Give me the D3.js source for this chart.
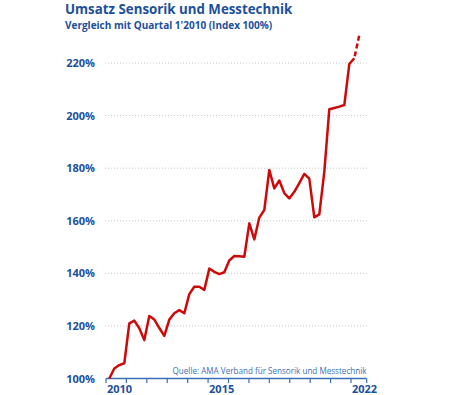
<!DOCTYPE html>
<html>
<head>
<meta charset="utf-8">
<script src="https://cdn.jsdelivr.net/npm/d3@7"></script>
<style>
  body { margin: 0; background: #fff; }
  text { font-family: "Open Sans", sans-serif; }
  .grid line { stroke: #c8c8c8; stroke-dasharray: 1,2; }
</style>
</head>
<body>
<script>
var w = 450;
var h = 395;

// Index-Werte je Quartal, Q1 2010 bis Q3 2022 (letzter Wert Prognose)
var values = [100, 103.8, 105.1, 105.8, 121.0, 122.0, 119.1, 114.6, 123.8, 122.4,
              119.2, 116.2, 122.4, 124.8, 126.0, 124.8, 132.1, 134.9, 134.9, 133.7,
              141.8, 140.6, 139.7, 140.4, 144.9, 146.6, 146.5, 146.3, 159.0, 152.9,
              161.2, 164.1, 179.3, 172.3, 175.3, 170.5, 168.5, 171.0, 174.3, 177.8,
              176.0, 161.3, 162.4, 178.6, 202.4, 202.9, 203.4, 204.0, 219.6, 221.8,
              230.6];
var yTicks = [100, 120, 140, 160, 180, 200, 220];
var years = [2010, 2011, 2012, 2013, 2014, 2015, 2016, 2017, 2018, 2019, 2020, 2021, 2022];
var yearLabels = [2010, 2015, 2022];

var title = "Umsatz Sensorik und Messtechnik";
var subtitle = "Vergleich mit Quartal 1'2010 (Index 100%)";
var source = "Quelle: AMA Verband für Sensorik und Messtechnik";

var blue = "#1c4f9c";

var svg = d3.select("body")
    .append("svg")
    .attr("width", w)
    .attr("height", h);

var y = d3.scaleLinear().domain([100, 220]).range([378.5, 63]);
var xq = d3.scaleLinear().domain([0, values.length - 1]).range([109.3, 359.3]);
var xYear = d3.scaleLinear().domain([2010, 2022]).range([106, 351]);

// grid
svg.append("g")
    .attr("class", "grid")
    .selectAll("line")
    .data(yTicks.slice(1))
    .enter()
    .append("line")
    .attr("x1", 105)
    .attr("x2", 368)
    .attr("y1", function(d) { return y(d); })
    .attr("y2", function(d) { return y(d); });

// y labels
svg.selectAll(".ylab")
    .data(yTicks)
    .enter()
    .append("text")
    .attr("class", "ylab")
    .attr("x", 95)
    .attr("y", function(d) { return y(d) + 4; })
    .attr("text-anchor", "end")
    .attr("font-size", 11)
    .attr("font-weight", "bold")
    .attr("fill", blue)
    .text(function(d) { return d + "%"; });

// x axis
svg.append("line")
    .attr("x1", xYear(2010))
    .attr("x2", 366.7)
    .attr("y1", 378.5)
    .attr("y2", 378.5)
    .attr("stroke", "#3a6fb8")
    .attr("stroke-width", 1.5);

svg.selectAll(".xtick")
    .data(years.concat([2022.77]))
    .enter()
    .append("line")
    .attr("class", "xtick")
    .attr("x1", function(d) { return d > 2022 ? 366.7 : xYear(d); })
    .attr("x2", function(d) { return d > 2022 ? 366.7 : xYear(d); })
    .attr("y1", 378.5)
    .attr("y2", 383)
    .attr("stroke", "#3a6fb8")
    .attr("stroke-width", 1.2);

svg.selectAll(".xlab")
    .data(yearLabels)
    .enter()
    .append("text")
    .attr("class", "xlab")
    .attr("x", function(d) { return xYear(d) + 1; })
    .attr("y", 393)
    .attr("font-size", 11)
    .attr("font-weight", "bold")
    .attr("fill", blue)
    .text(function(d) { return d; });

// line
var line = d3.line()
    .x(function(d, i) { return xq(i); })
    .y(function(d) { return y(d); });

var n = values.length;
svg.append("path")
    .datum(values.slice(0, n - 1))
    .attr("d", line)
    .attr("fill", "none")
    .attr("stroke", "#cc0a0a")
    .attr("stroke-width", 2.5)
    .attr("stroke-linejoin", "round");

svg.append("path")
    .datum(values.slice(n - 2))
    .attr("d", d3.line()
        .x(function(d, i) { return xq(n - 2 + i); })
        .y(function(d) { return y(d); }))
    .attr("fill", "none")
    .attr("stroke", "#cc0a0a")
    .attr("stroke-width", 2.5)
    .attr("stroke-dasharray", "5,3")
    .attr("stroke-dashoffset", -2);

// texts
svg.append("text")
    .attr("x", 65)
    .attr("y", 14.3)
    .attr("font-size", 13.3)
    .attr("font-weight", "bold")
    .attr("fill", blue)
    .text(title);

svg.append("text")
    .attr("x", 65)
    .attr("y", 29.2)
    .attr("font-size", 10)
    .attr("font-weight", "bold")
    .attr("fill", blue)
    .text(subtitle);

svg.append("text")
    .attr("x", 366.5)
    .attr("y", 373.5)
    .attr("text-anchor", "end")
    .attr("font-size", 8.1)
    .attr("fill", "#3a6fb8")
    .text(source);
</script>
</body>
</html>
